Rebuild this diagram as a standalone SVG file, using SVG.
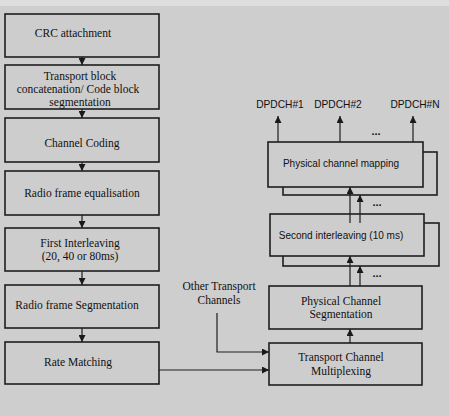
<svg xmlns="http://www.w3.org/2000/svg" width="449" height="416" viewBox="0 0 449 416">
<defs>
<marker id="ah" viewBox="0 0 8 8" refX="8" refY="4" markerWidth="7" markerHeight="7" markerUnits="userSpaceOnUse" orient="auto">
<path d="M0,0 L8,4 L0,8 z" fill="#1a1a1a"/>
</marker>
</defs>
<style>
.bx{fill:#cdcdcd;stroke:#1e1e1e;stroke-width:1.6}
.ln{fill:none;stroke:#1e1e1e;stroke-width:1.2}
.ar{fill:none;stroke:#1e1e1e;stroke-width:1.2;marker-end:url(#ah)}
.t{font-family:"Liberation Serif",serif;font-size:11.5px;fill:#111;text-anchor:middle}
.s{font-family:"Liberation Sans",sans-serif;font-size:10px;fill:#111;text-anchor:middle}
.d{font-family:"Liberation Sans",sans-serif;font-size:10.2px;fill:#111;text-anchor:middle}
.dots{font-family:"Liberation Sans",sans-serif;font-size:11px;font-weight:bold;fill:#111;text-anchor:middle}
</style>
<rect x="0" y="0" width="449" height="416" fill="#cecece"/>
<rect x="0" y="0" width="449" height="6" fill="#dedede"/>

<g id="crc"><rect class="bx" x="5" y="14" width="154" height="43"/><text class="t" x="73" y="37">CRC attachment</text></g>
<g id="tbc"><rect class="bx" x="5" y="65" width="154" height="44"/><text class="t" x="80" y="80">Transport block</text><text class="t" x="78" y="93">concatenation/ Code block</text><text class="t" x="80" y="106">segmentation</text></g>
<g id="cc"><rect class="bx" x="5" y="118" width="154" height="44"/><text class="t" x="82" y="147">Channel Coding</text></g>
<g id="rfe"><rect class="bx" x="5" y="171" width="154" height="44"/><text class="t" x="82" y="197">Radio frame equalisation</text></g>
<g id="fi"><rect class="bx" x="5" y="228" width="154" height="43"/><text class="t" x="80" y="247">First Interleaving</text><text class="t" x="80" y="260">(20, 40 or 80ms)</text></g>
<g id="rfs"><rect class="bx" x="5" y="285" width="154" height="43"/><text class="t" x="77" y="309">Radio frame Segmentation</text></g>
<g id="rm"><rect class="bx" x="5" y="342" width="154" height="42"/><text class="t" x="78" y="366">Rate Matching</text></g>

<g id="pcm">
<rect class="bx" x="283" y="152" width="154" height="43"/>
<rect class="bx" x="268" y="142" width="155" height="45"/>
<text class="s" x="341" y="167">Physical channel mapping</text>
</g>
<g id="si">
<rect class="bx" x="283" y="223" width="156" height="43"/>
<rect class="bx" x="270" y="214" width="154" height="42"/>
<text class="s" x="341" y="239">Second interleaving (10 ms)</text>
</g>
<g id="pcs"><rect class="bx" x="269" y="286" width="153" height="43"/><text class="t" x="341" y="305">Physical Channel</text><text class="t" x="341" y="318">Segmentation</text></g>
<g id="tcm"><rect class="bx" x="269" y="343" width="153" height="42"/><text class="t" x="341" y="361">Transport Channel</text><text class="t" x="341" y="375">Multiplexing</text></g>

<g id="labels">
<text class="d" x="280" y="108">DPDCH#1</text>
<text class="d" x="338" y="108">DPDCH#2</text>
<text class="d" x="415" y="108">DPDCH#N</text>
<text class="t" x="219" y="290">Other Transport</text>
<text class="t" x="219" y="304">Channels</text>
<text class="dots" x="376" y="135">...</text>
<text class="dots" x="377" y="206">...</text>
<text class="dots" x="377" y="277">...</text>
</g>

<g id="connectors">
<line class="ar" x1="82" y1="57" x2="82" y2="65"/>
<line class="ar" x1="82" y1="109" x2="82" y2="118"/>
<line class="ar" x1="82" y1="162" x2="82" y2="171"/>
<line class="ar" x1="82" y1="215" x2="82" y2="228"/>
<line class="ar" x1="82" y1="271" x2="82" y2="285"/>
<line class="ar" x1="82" y1="328" x2="82" y2="342"/>
<polyline class="ar" points="159,370 269,370"/>
<polyline class="ar" points="217,313 217,352 269,352"/>
<line class="ar" x1="350" y1="343" x2="350" y2="329"/>
<line class="ar" x1="350" y1="286" x2="350" y2="256"/>
<line class="ar" x1="360" y1="286" x2="360" y2="266"/>
<line class="ar" x1="350" y1="223" x2="350" y2="187"/>
<line class="ar" x1="360" y1="223" x2="360" y2="195"/>
<line class="ar" x1="278" y1="142" x2="278" y2="116"/>
<line class="ar" x1="340" y1="142" x2="340" y2="116"/>
<line class="ar" x1="413" y1="142" x2="413" y2="116"/>
</g>
</svg>
